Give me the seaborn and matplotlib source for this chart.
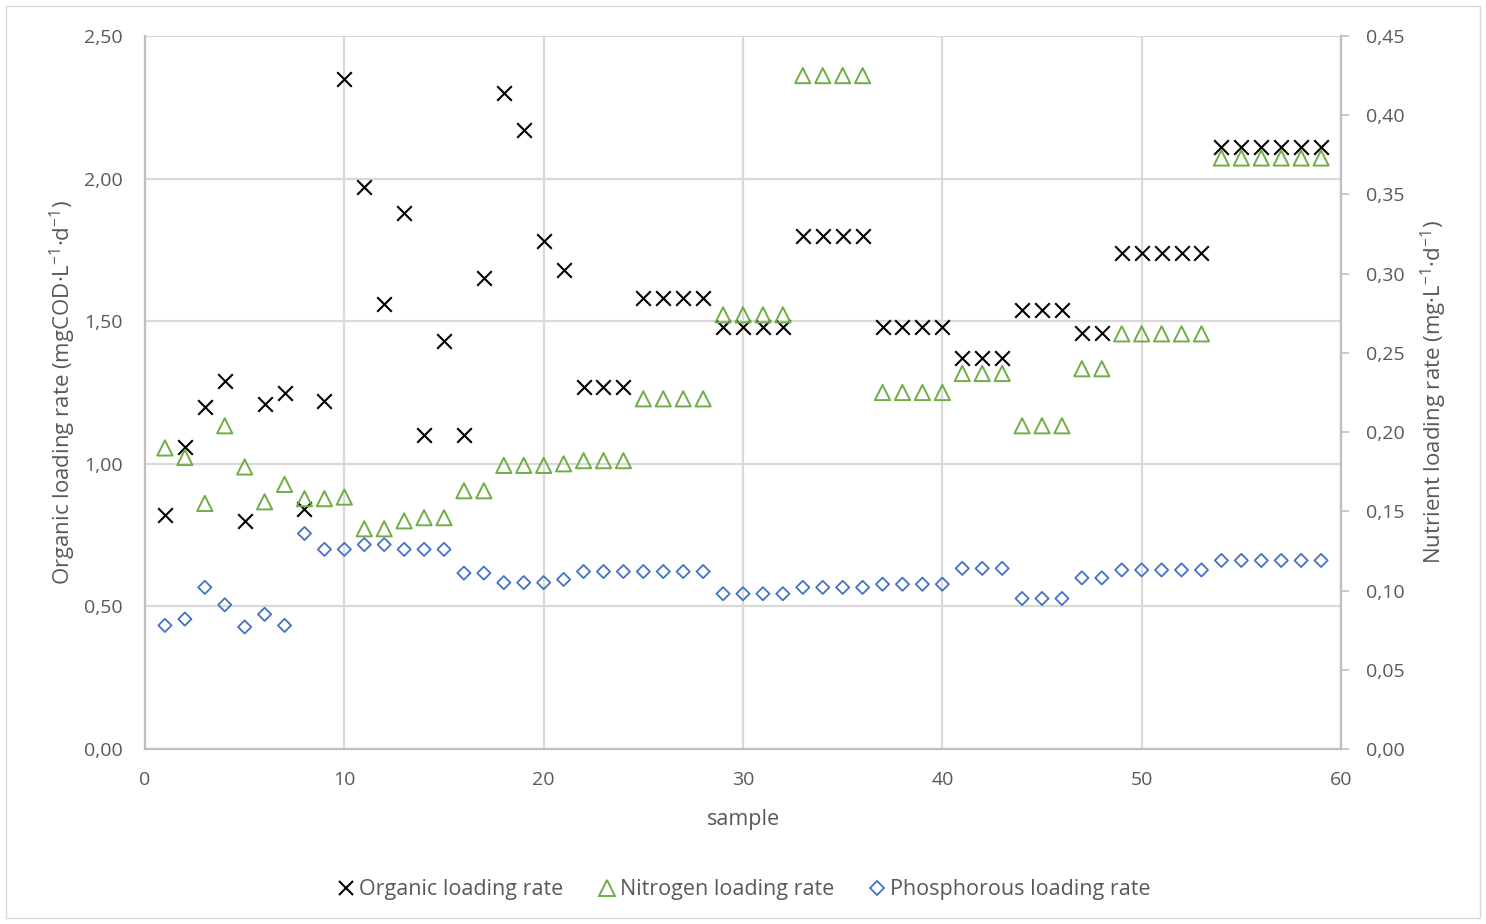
import matplotlib
matplotlib.use("Agg")
import matplotlib.pyplot as plt
from matplotlib.lines import Line2D
from matplotlib.patches import Rectangle
from matplotlib.ticker import FuncFormatter, MultipleLocator
import numpy as np
import pandas as pd
import seaborn as sns

sns.set_theme(style="white")
plt.rcParams["font.family"] = ["Open Sans", "DejaVu Sans"]

samples = list(range(1, 60))

organic = [0.82, 1.06, 1.20, 1.29, 0.80, 1.21, 1.25, 0.84, 1.22, 2.35,
           1.97, 1.56, 1.88, 1.10, 1.43, 1.10, 1.65, 2.30, 2.17, 1.78,
           1.68, 1.27, 1.27, 1.27, 1.58, 1.58, 1.58, 1.58, 1.48, 1.48,
           1.48, 1.48, 1.80, 1.80, 1.80, 1.80, 1.48, 1.48, 1.48, 1.48,
           1.37, 1.37, 1.37, 1.54, 1.54, 1.54, 1.46, 1.46, 1.74, 1.74,
           1.74, 1.74, 1.74, 2.11, 2.11, 2.11, 2.11, 2.11, 2.11]

nitrogen = [0.190, 0.184, 0.155, 0.204, 0.178, 0.156, 0.167, 0.158, 0.158, 0.159,
            0.139, 0.139, 0.144, 0.146, 0.146, 0.163, 0.163, 0.179, 0.179, 0.179,
            0.180, 0.182, 0.182, 0.182, 0.221, 0.221, 0.221, 0.221, 0.274, 0.274,
            0.274, 0.274, 0.425, 0.425, 0.425, 0.425, 0.225, 0.225, 0.225, 0.225,
            0.237, 0.237, 0.237, 0.204, 0.204, 0.204, 0.240, 0.240, 0.262, 0.262,
            0.262, 0.262, 0.262, 0.373, 0.373, 0.373, 0.373, 0.373, 0.373]

phosphorous = [0.078, 0.082, 0.102, 0.091, 0.077, 0.085, 0.078, 0.136, 0.126, 0.126,
               0.129, 0.129, 0.126, 0.126, 0.126, 0.111, 0.111, 0.105, 0.105, 0.105,
               0.107, 0.112, 0.112, 0.112, 0.112, 0.112, 0.112, 0.112, 0.098, 0.098,
               0.098, 0.098, 0.102, 0.102, 0.102, 0.102, 0.104, 0.104, 0.104, 0.104,
               0.114, 0.114, 0.114, 0.095, 0.095, 0.095, 0.108, 0.108, 0.113, 0.113,
               0.113, 0.113, 0.113, 0.119, 0.119, 0.119, 0.119, 0.119, 0.119]

series_names = ["Organic loading rate", "Nitrogen loading rate", "Phosphorous loading rate"]

df = pd.DataFrame({"sample": samples, "organic": organic,
                   "nitrogen": nitrogen, "phosphorous": phosphorous})

BLACK = "#000000"
GREEN = "#70AD47"
BLUE = "#4472C4"
GRID = "#D9D9D9"
TEXT = "#595959"

W, H = 1486, 924
fig = plt.figure(figsize=(W / 100, H / 100), dpi=100)
fig.patches.append(Rectangle((6 / W, 6 / H), 1 - 12 / W, 1 - 12 / H,
                             transform=fig.transFigure, fill=False,
                             edgecolor="#D9D9D9", linewidth=1.0))

ax = fig.add_axes([145 / W, 1 - 749 / H, (1341 - 145) / W, (749 - 36) / H])
ax2 = ax.twinx()

comma = FuncFormatter(lambda v, p: f"{v:.2f}".replace(".", ","))

# Organic loading on the left axis
sns.scatterplot(data=df, x="sample", y="organic", ax=ax, marker="x",
                color=BLACK, s=110, linewidth=1.5, zorder=5, legend=False)

# Nutrient loadings on the right axis
sns.scatterplot(data=df, x="sample", y="phosphorous", ax=ax2, marker="D",
                facecolor="none", edgecolor=BLUE, s=45, linewidth=1.3,
                zorder=4, legend=False)
sns.scatterplot(data=df, x="sample", y="nitrogen", ax=ax2, marker="^",
                facecolor="none", edgecolor=GREEN, s=120, linewidth=1.4,
                zorder=4, legend=False)

ax.set_xlim(0, 60)
ax.set_ylim(0, 2.5)
ax2.set_ylim(0, 0.45)
ax.xaxis.set_major_locator(MultipleLocator(10))
ax.yaxis.set_major_locator(MultipleLocator(0.5))
ax2.yaxis.set_major_locator(MultipleLocator(0.05))
ax.yaxis.set_major_formatter(comma)
ax2.yaxis.set_major_formatter(comma)

ax.grid(True, color=GRID, linewidth=1.6)
ax.set_axisbelow(True)
ax2.grid(False)

for a in (ax, ax2):
    for s in a.spines.values():
        s.set_visible(False)
ax.spines["left"].set_visible(True)
ax.spines["left"].set_color("#BFBFBF")
ax.spines["left"].set_linewidth(1.6)
ax.spines["bottom"].set_visible(True)
ax.spines["bottom"].set_color("#BFBFBF")
ax.spines["bottom"].set_linewidth(1.6)
ax2.spines["right"].set_visible(True)
ax2.spines["right"].set_color("#BFBFBF")
ax2.spines["right"].set_linewidth(1.6)

ax.tick_params(axis="both", length=0, labelsize=14, colors=TEXT)
ax.tick_params(axis="x", pad=16)
ax.tick_params(axis="y", pad=16)
ax2.tick_params(axis="y", length=6, width=1.2, color="#BFBFBF",
                labelsize=14, labelcolor=TEXT, pad=12)

ax.set_xlabel("sample", fontsize=15.5, color=TEXT, labelpad=14)
ax.set_ylabel(r"Organic loading rate (mgCOD·L$\mathregular{^{-1}}$·d$\mathregular{^{-1}}$)",
              fontsize=16, color=TEXT, labelpad=4)
ax2.set_ylabel(r"Nutrient loading rate (mg·L$\mathregular{^{-1}}$·d$\mathregular{^{-1}}$)",
               fontsize=16, color=TEXT, labelpad=10)

handles = [
    Line2D([], [], linestyle="none", marker="x", color=BLACK, markersize=10, markeredgewidth=1.5),
    Line2D([], [], linestyle="none", marker="^", markerfacecolor="none",
           markeredgecolor=GREEN, markersize=11, markeredgewidth=1.4),
    Line2D([], [], linestyle="none", marker="D", markerfacecolor="none",
           markeredgecolor=BLUE, markersize=7.5, markeredgewidth=1.3),
]
fig.legend(handles, series_names, loc="center", bbox_to_anchor=(0.5, 1 - 890 / H),
           ncol=3, frameon=False, fontsize=15.5, labelcolor=TEXT,
           handletextpad=0.1, columnspacing=1.5, handlelength=1.0)

fig.savefig("out.png", dpi=100, facecolor="white")
